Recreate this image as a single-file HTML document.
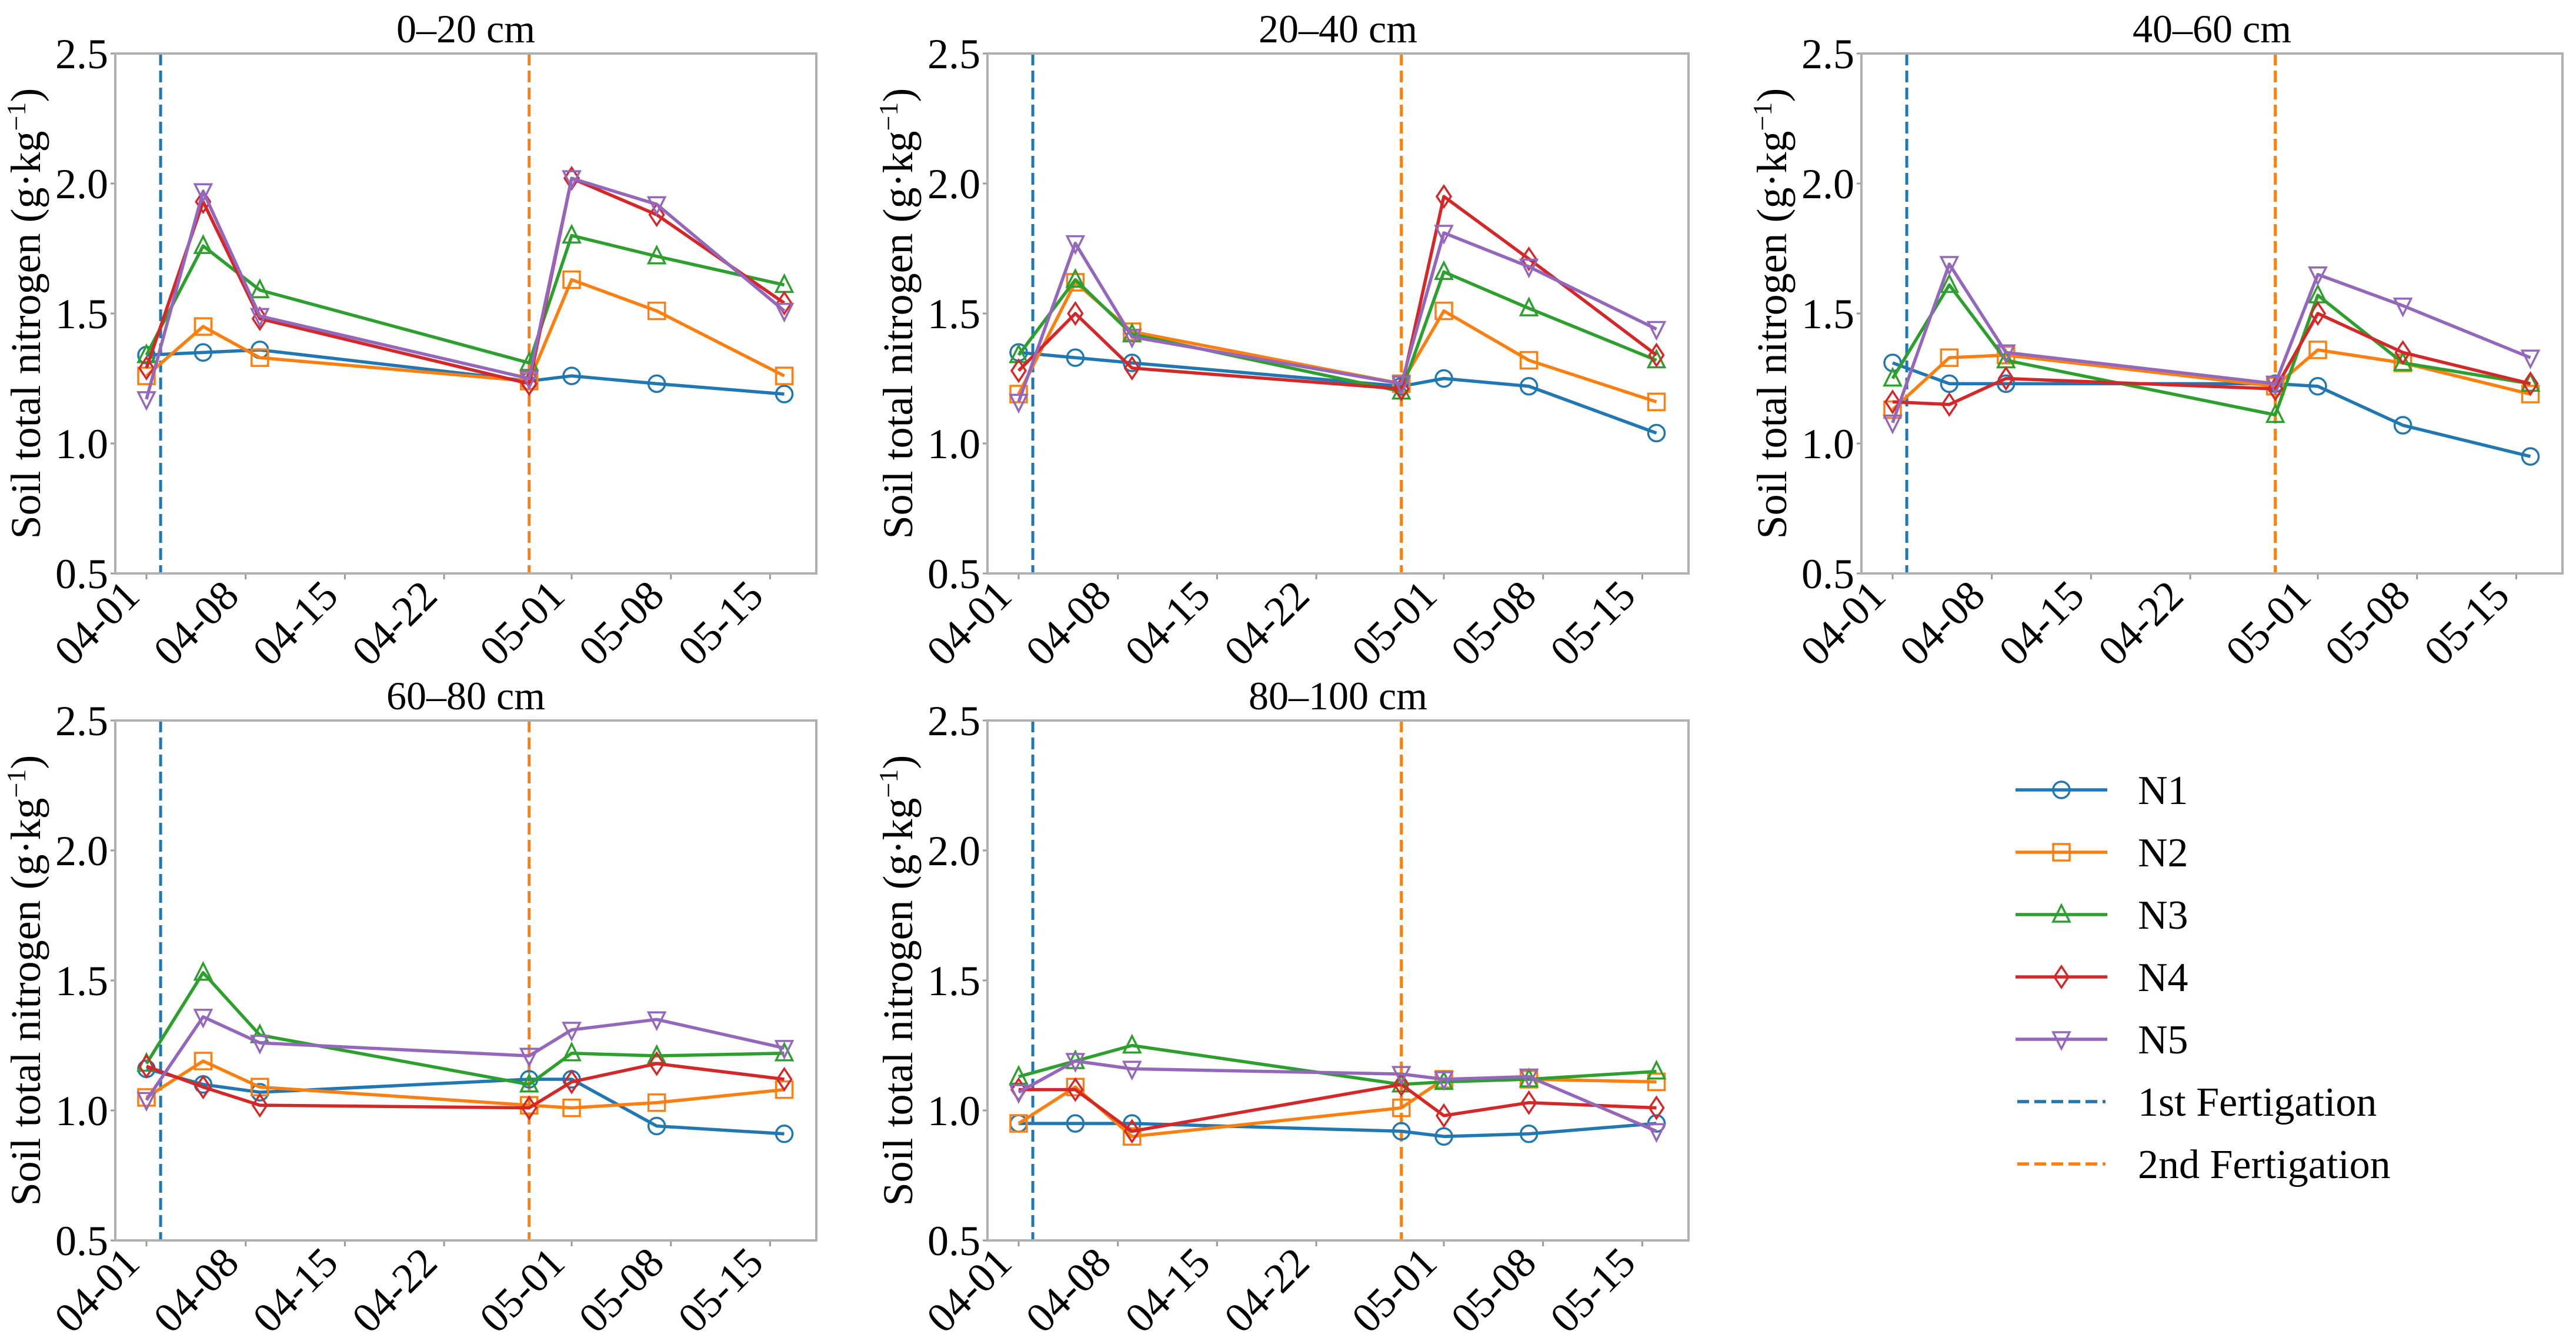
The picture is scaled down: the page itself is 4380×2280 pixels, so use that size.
<!DOCTYPE html>
<html><head><meta charset="utf-8"><style>
html,body{margin:0;padding:0;background:#fff;}
svg{display:block;font-family:"Liberation Serif",serif;}
</style></head><body>
<svg id="fig" width="4380" height="2280" viewBox="0 0 4380 2280" xmlns="http://www.w3.org/2000/svg"></svg>
<script>
// Data
const dayOffsets = [0, 4, 8, 27, 30, 36, 45]; // days since 04-01
const tickDays = [0, 7, 14, 21, 30, 37, 44];
const tickLabels = ["04-01","04-08","04-15","04-22","05-01","05-08","05-15"];
const yTicks = [0.5, 1.0, 1.5, 2.0, 2.5];
const fert1Day = 1;
const fert2Day = 27;
const panelTitles = ["0–20 cm","20–40 cm","40–60 cm","60–80 cm","80–100 cm"];
const seriesNames = ["N1","N2","N3","N4","N5"];
const p1N1=[1.34,1.35,1.36,1.24,1.26,1.23,1.19];
const p1N2=[1.26,1.45,1.33,1.24,1.63,1.51,1.26];
const p1N3=[1.34,1.76,1.59,1.31,1.80,1.72,1.61];
const p1N4=[1.29,1.93,1.48,1.23,2.02,1.88,1.54];
const p1N5=[1.17,1.97,1.49,1.25,2.02,1.92,1.51];
const p2N1=[1.35,1.33,1.31,1.22,1.25,1.22,1.04];
const p2N2=[1.19,1.62,1.43,1.23,1.51,1.32,1.16];
const p2N3=[1.34,1.63,1.42,1.20,1.66,1.52,1.32];
const p2N4=[1.28,1.50,1.29,1.21,1.95,1.71,1.34];
const p2N5=[1.16,1.77,1.41,1.23,1.81,1.68,1.44];
const p3N1=[1.31,1.23,1.23,1.23,1.22,1.07,0.95];
const p3N2=[1.13,1.33,1.34,1.22,1.36,1.31,1.19];
const p3N3=[1.25,1.61,1.32,1.11,1.57,1.31,1.23];
const p3N4=[1.16,1.15,1.25,1.21,1.50,1.35,1.23];
const p3N5=[1.08,1.69,1.35,1.23,1.65,1.53,1.33];
const p4N1=[1.16,1.10,1.07,1.12,1.12,0.94,0.91];
const p4N2=[1.05,1.19,1.09,1.02,1.01,1.03,1.08];
const p4N3=[1.18,1.53,1.29,1.10,1.22,1.21,1.22];
const p4N4=[1.17,1.09,1.02,1.01,1.11,1.18,1.12];
const p4N5=[1.04,1.36,1.26,1.21,1.31,1.35,1.24];
const p5N1=[0.95,0.95,0.95,0.92,0.90,0.91,0.95];
const p5N2=[0.95,1.09,0.90,1.01,1.12,1.12,1.11];
const p5N3=[1.13,1.19,1.25,1.10,1.11,1.12,1.15];
const p5N4=[1.08,1.08,0.92,1.10,0.98,1.03,1.01];
const p5N5=[1.07,1.19,1.16,1.14,1.12,1.13,0.92];
const panelData=[[p1N1,p1N2,p1N3,p1N4,p1N5],[p2N1,p2N2,p2N3,p2N4,p2N5],[p3N1,p3N2,p3N3,p3N4,p3N5],[p4N1,p4N2,p4N3,p4N4,p4N5],[p5N1,p5N2,p5N3,p5N4,p5N5]];

const colors=["#1f77b4","#ff7f0e","#2ca02c","#d62728","#9467bd"];
const markers=["o","s","^","D","v"];
const NS="http://www.w3.org/2000/svg";
const svg=document.getElementById('fig');
function mk(tag,attrs,parent){const e=document.createElementNS(NS,tag);for(const k in attrs)e.setAttribute(k,attrs[k]);(parent||svg).appendChild(e);return e;}

function marker(g,type,x,y,c){
  const r=14;let e;
  if(type==="o") e=mk('circle',{cx:x,cy:y,r:r},g);
  else if(type==="s") e=mk('rect',{x:x-r,y:y-r,width:2*r,height:2*r},g);
  else if(type==="^") e=mk('polygon',{points:`${x},${y-r-2} ${x+r},${y+r-2} ${x-r},${y+r-2}`},g);
  else if(type==="D") e=mk('polygon',{points:`${x},${y-r-4} ${x+r-2},${y} ${x},${y+r+4} ${x-r+2},${y}`},g);
  else e=mk('polygon',{points:`${x},${y+r+2} ${x+r},${y-r+2} ${x-r},${y-r+2}`},g);
  e.setAttribute('fill','none');e.setAttribute('stroke',c);e.setAttribute('stroke-width','3.5');
  return e;
}

const offX=[0,1483,2969,0,1483], offY=[0,0,0,1134,1134];
const L=196,R=1388,T=91,B=975,X0=249,DAY=24.1;
panelData.forEach((series,pi)=>{
  const ox=offX[pi], oy=offY[pi];
  const g=mk('g',{});
  
  
  const xs=d=>ox+X0+d*DAY;
  const ys=v=>oy+B-(v-0.5)/2*(B-T);
  const t=mk('text',{x:ox+(L+R)/2,y:oy+72,'text-anchor':'middle','font-size':68},g);t.textContent=panelTitles[pi];
  
  yTicks.forEach(v=>{
    const tl=mk('text',{x:ox+L-12,y:ys(v)+25,'text-anchor':'end','font-size':72},g);tl.textContent=v.toFixed(1);
    
    mk('line',{x1:ox+L-8,x2:ox+L,y1:ys(v),y2:ys(v),stroke:'#999','stroke-width':3},g);
  });
  const yl=mk('text',{transform:`translate(${ox+68},${oy+(T+B)/2}) rotate(-90)`,'text-anchor':'middle','font-size':72},g);
  yl.innerHTML='Soil total nitrogen (g·kg<tspan baseline-shift="super" font-size="46">−1</tspan>)';
  
  tickDays.forEach((d,i)=>{
    mk('line',{x1:xs(d),x2:xs(d),y1:oy+B,y2:oy+B+10,stroke:'#999','stroke-width':3},g);
    const tl=mk('text',{transform:`translate(${xs(d)-8},${oy+B+42}) rotate(-45)`,'text-anchor':'end','font-size':72},g);
    tl.textContent=tickLabels[i];
    
  });
  const v1=mk('line',{x1:xs(fert1Day),x2:xs(fert1Day),y1:oy+T,y2:oy+B,stroke:colors[0],'stroke-width':5,'stroke-dasharray':'20 9'},g);
  
  const v2=mk('line',{x1:xs(fert2Day),x2:xs(fert2Day),y1:oy+T,y2:oy+B,stroke:colors[1],'stroke-width':5,'stroke-dasharray':'20 9'},g);
  
  series.forEach((vals,si)=>{
    const sg=mk('g',{},g);
    
    
    const pts=vals.map((v,i)=>xs(dayOffsets[i])+','+ys(v)).join(' ');
    mk('polyline',{points:pts,fill:'none',stroke:colors[si],'stroke-width':5.5,'stroke-linejoin':'round'},sg);
    vals.forEach((v,i)=>{const m=marker(sg,markers[si],xs(dayOffsets[i]),ys(v),colors[si]);
      });
  });
  const fr=mk('rect',{x:ox+L,y:oy+T,width:R-L,height:B-T,fill:'none',stroke:'#b0b0b0','stroke-width':4},g);
  
});

const legendLabels=["N1","N2","N3","N4","N5","1st Fertigation","2nd Fertigation"];
const lg=mk('g',{});


legendLabels.forEach((lab,i)=>{
  const y=1343+i*106;
  const eg=mk('g',{},lg);
  
  
  const c=i<5?colors[i]:colors[i-5];
  if(i<5){
    mk('line',{x1:3427,x2:3583,y1:y,y2:y,stroke:c,'stroke-width':5.5},eg);
    marker(eg,markers[i],3505,y,c);
  } else {
    mk('line',{x1:3430,x2:3580,y1:y,y2:y,stroke:c,'stroke-width':5.5,'stroke-dasharray':'20 9'},eg);
  }
  const t=mk('text',{x:3635,y:y+24,'font-size':70},eg);t.textContent=lab;
});
</script>
</body></html>
